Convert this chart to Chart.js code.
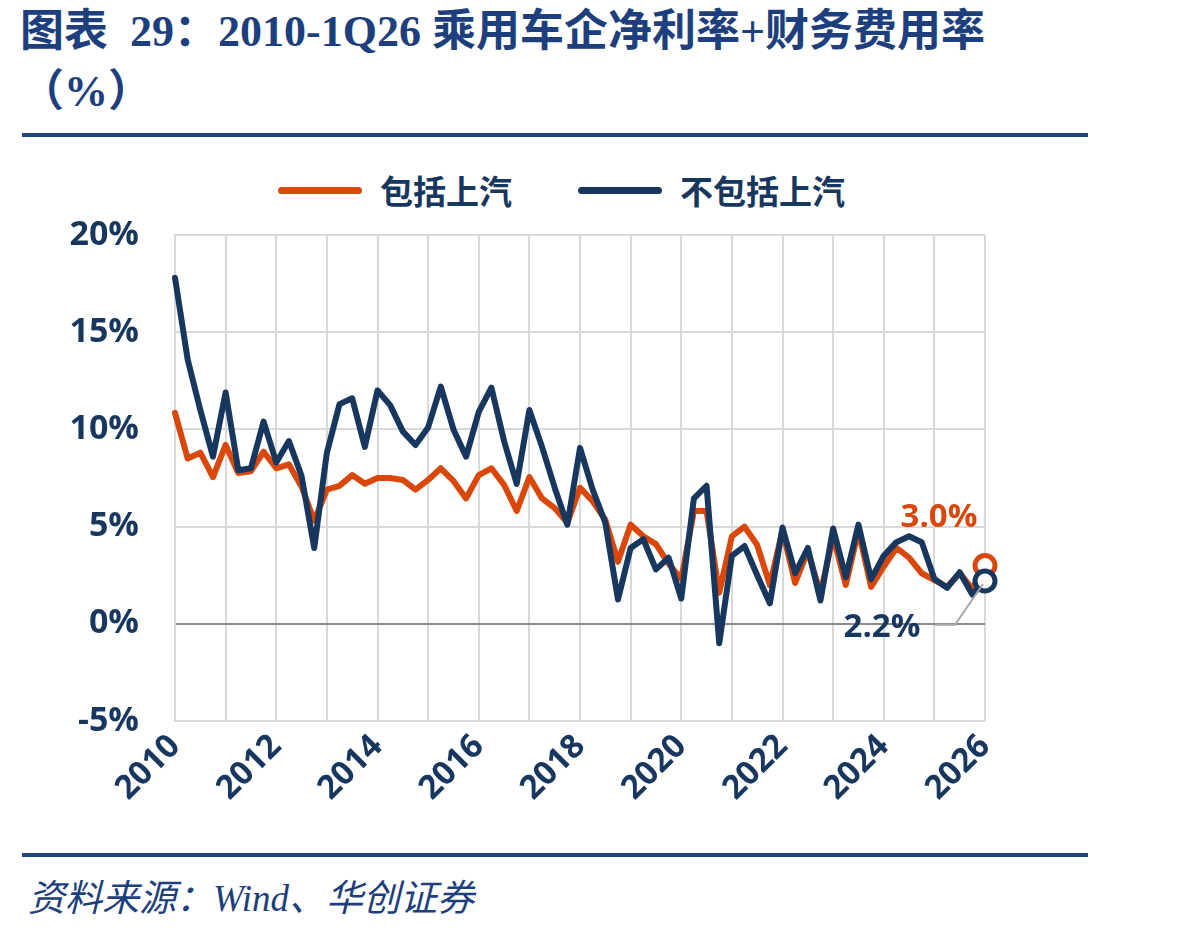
<!DOCTYPE html>
<html><head><meta charset="utf-8">
<script src="https://cdn.jsdelivr.net/npm/chart.js@4.4.0/dist/chart.umd.min.js"></script>
<style>
html,body{margin:0;padding:0;background:#fff;}
body{width:1198px;height:931px;overflow:hidden;position:relative;}
.title{position:absolute;left:20px;top:2px;font-family:"Liberation Serif","Noto Sans CJK SC",serif;font-weight:bold;font-size:44px;color:#1d3f7d;line-height:60px;white-space:nowrap;}
.rule{position:absolute;left:22px;width:1066px;height:4px;background:#1d4483;}
.leg{position:absolute;top:170px;height:40px;font-family:"Noto Sans CJK SC",sans-serif;font-weight:bold;font-size:33px;line-height:40px;white-space:nowrap;}
.legline{position:absolute;top:187px;height:7px;border-radius:4px;}
.footer{position:absolute;left:28px;top:868px;font-family:"Liberation Serif","Noto Sans CJK SC",serif;font-style:italic;font-size:37px;color:#1d3f7d;white-space:nowrap;}
#c{position:absolute;left:0;top:0;}
</style></head>
<body>
<div class="title">图表&nbsp;&nbsp;29：2010-1Q26 乘用车企净利率+财务费用率<br>（%）</div>
<div class="rule" style="top:133px"></div>
<div class="legline" style="left:278px;width:84px;background:#D9470B"></div>
<div class="leg" style="left:380px;color:#17375E">包括上汽</div>
<div class="legline" style="left:578px;width:84px;background:#17375E"></div>
<div class="leg" style="left:680px;color:#17375E">不包括上汽</div>
<div class="rule" style="top:853px"></div>
<div class="footer">资料来源：Wind、华创证券</div>
<canvas id="c" width="1198" height="931"></canvas>
<script>
// Periods: quarterly from 2010Q1 to 2026Q1
const years = [2010,2011,2012,2013,2014,2015,2016,2017,2018,2019,2020,2021,2022,2023,2024,2025,2026];
const periods = [];
years.forEach(y => { for (let q = 1; q <= 4; q++) { if (y === 2026 && q > 1) break; periods.push(y + 'Q' + q); } });

const seriesNames = ['包括上汽', '不包括上汽'];
// 包括上汽 (%)
const inclSAIC = [10.85,8.5,8.8,7.55,9.2,7.75,7.85,8.85,8.0,8.2,7.05,5.3,6.9,7.1,7.65,7.2,
  7.5,7.5,7.4,6.9,7.4,8.0,7.35,6.45,7.65,8.0,7.15,5.8,7.55,6.45,5.95,5.2,
  7.0,6.3,5.35,3.2,5.1,4.5,4.1,3.1,2.3,5.8,5.8,1.6,4.5,5.0,4.05,2.0,
  4.8,2.1,3.75,1.55,4.5,2.0,4.8,1.9,2.95,3.9,3.4,2.6,2.25,1.9,2.6,1.8,3.0];
// 不包括上汽 (%)
const exSAIC = [17.8,13.6,11.0,8.6,11.9,7.9,8.0,10.4,8.3,9.4,7.6,3.9,8.8,11.3,11.6,9.1,
  12.0,11.25,9.9,9.2,10.1,12.2,10.0,8.6,10.9,12.15,9.4,7.2,11.0,9.1,7.0,5.1,
  9.05,6.9,5.2,1.25,3.9,4.35,2.8,3.4,1.3,6.45,7.1,-1.0,3.5,4.0,2.5,1.05,
  4.95,2.6,3.9,1.2,4.9,2.4,5.1,2.3,3.5,4.2,4.5,4.2,2.3,1.85,2.65,1.5,2.2];

const yTicks = [-5, 0, 5, 10, 15, 20];
const xLabelYears = [2010,2012,2014,2016,2018,2020,2022,2024,2026];

const ORANGE = '#D9470B', NAVY = '#17375E';
const toX = p => parseInt(p.slice(0,4)) + (parseInt(p.slice(5)) - 1) / 4;
const mk = arr => arr.map((v, i) => ({ x: toX(periods[i]), y: v }));
const lastOnly = (r) => ctx => ctx.dataIndex === periods.length - 1 ? r : 0;

const endLabels = {
  id: 'endLabels',
  afterDatasetsDraw(chart) {
    const ctx = chart.ctx;
    const yZero = chart.scales.y.getPixelForValue(0);
    const mo = chart.getDatasetMeta(0), mn = chart.getDatasetMeta(1);
    const po = mo.data[mo.data.length - 1], pn = mn.data[mn.data.length - 1];
    ctx.save();
    ctx.font = 'bold 33px "Open Sans"';
    ctx.textAlign = 'center'; ctx.textBaseline = 'middle';
    ctx.fillStyle = ORANGE;
    ctx.fillText(inclSAIC[inclSAIC.length - 1].toFixed(1) + '%', po.x - 46, po.y - 48);
    // leader line for navy label
    ctx.strokeStyle = '#a6a6a6'; ctx.lineWidth = 2;
    ctx.beginPath();
    ctx.moveTo(pn.x - 2, pn.y + 3);
    ctx.lineTo(pn.x - 30, yZero + 1);
    ctx.lineTo(pn.x - 50, yZero + 1);
    ctx.stroke();
    ctx.fillStyle = NAVY;
    ctx.fillText(exSAIC[exSAIC.length - 1].toFixed(1) + '%', pn.x - 103, yZero + 4);
    ctx.restore();
  }
};

new Chart(document.getElementById('c'), {
  type: 'line',
  data: {
    datasets: [
      { label: seriesNames[0], data: mk(inclSAIC), borderColor: ORANGE, backgroundColor: '#fff',
        borderWidth: 6, pointRadius: lastOnly(10), pointBorderWidth: 5, pointBorderColor: ORANGE,
        pointBackgroundColor: '#fff', borderJoinStyle: 'round', borderCapStyle: 'round', tension: 0, order: 1, clip: false },
      { label: seriesNames[1], data: mk(exSAIC), borderColor: NAVY, backgroundColor: '#fff',
        borderWidth: 6, pointRadius: lastOnly(10), pointBorderWidth: 5, pointBorderColor: NAVY,
        pointBackgroundColor: '#fff', borderJoinStyle: 'round', borderCapStyle: 'round', tension: 0, order: 0, clip: false }
    ]
  },
  options: {
    responsive: false, animation: false,
    layout: { padding: { left: 0, right: 213, top: 235, bottom: 0 } },
    plugins: { legend: { display: false }, tooltip: { enabled: false } },
    scales: {
      x: {
        type: 'linear', min: years[0], max: years[years.length - 1],
        afterFit: s => { s.height = 210; },
        afterBuildTicks: s => { s.ticks = years.map(v => ({ value: v })); },
        ticks: {
          autoSkip: false, maxRotation: 45, minRotation: 45, padding: 6,
          color: NAVY, font: { family: 'Open Sans', weight: 'bold', size: 33 },
          callback: v => xLabelYears.includes(v) ? String(v) : ''
        },
        grid: { color: '#d9d9d9', lineWidth: 2, drawTicks: false },
        border: { display: false }
      },
      y: {
        min: yTicks[0], max: yTicks[yTicks.length - 1],
        afterFit: s => { s.width = 175; },
        afterBuildTicks: s => { s.ticks = yTicks.map(v => ({ value: v })); },
        ticks: { color: NAVY, padding: 36, font: { family: 'Open Sans', weight: 'bold', size: 34 }, callback: v => v + '%' },
        grid: { color: c => c.tick && c.tick.value === 0 ? '#8c8c8c' : '#d9d9d9', lineWidth: 2, drawTicks: false },
        border: { display: true, color: '#d9d9d9', width: 2 }
      }
    }
  },
  plugins: [endLabels]
});
</script>
</body></html>
